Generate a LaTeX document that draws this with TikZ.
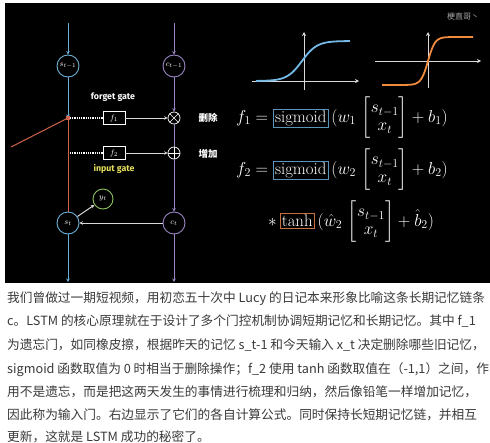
\documentclass[tikz,border=0pt]{standalone}
\usepackage{amsmath}
\usepackage{fontspec}
\usetikzlibrary{arrows.meta}
\newfontfamily\cjk{Noto Sans CJK SC}
\newfontfamily\gatefont{Fira Sans}
\definecolor{lblue}{HTML}{6AAED6}
\definecolor{lpurple}{HTML}{9A84C2}
\definecolor{lred}{HTML}{D0644C}
\definecolor{lgreen}{HTML}{8CBF5C}
\definecolor{lyellow}{HTML}{E6E05C}
\definecolor{sigcurve}{HTML}{74B9E6}
\definecolor{tanhcurve}{HTML}{F08A3C}
\definecolor{sigbox}{HTML}{5B94B8}
\definecolor{tanhbox}{HTML}{C8703C}
\definecolor{bodytext}{HTML}{3A3A3A}
\begin{document}
\begin{tikzpicture}[x=1pt,y=-1pt,
  tip/.style={-{Stealth[length=3.5pt,width=3.5pt]}},
  cell/.style={circle,minimum size=22pt,inner sep=0pt,line width=0.9pt,text=white,font=\fontsize{8}{9}\selectfont},
  gatebox/.style={rectangle,draw=white,line width=0.8pt,minimum width=22pt,minimum height=13pt,inner sep=0pt,text=white,font=\fontsize{8.5}{9}\selectfont},
  opnode/.style={circle,draw=white,line width=0.7pt,minimum size=12pt,inner sep=0pt},
  bline/.style={draw=lblue,line width=0.8pt},
  pline/.style={draw=lpurple,line width=0.8pt},
  rline/.style={draw=lred,line width=1pt},
  wline/.style={draw=white!85!black,line width=1pt},
  dotline/.style={draw=white,line width=1.2pt,dash pattern=on 0.9pt off 0.9pt},
  gatelabel/.style={font=\gatefont\bfseries\fontsize{8.8}{10}\selectfont},
  oplabel/.style={text=white,font=\cjk\bfseries\fontsize{9.5}{10}\selectfont,anchor=west},
  eq/.style={text=white,font=\fontsize{16.8}{19}\selectfont,inner sep=0pt},
  axis/.style={draw=white!85!black,line width=0.8pt,-{Stealth[length=4pt,width=4pt]}},
  body/.style={anchor=base west,inner sep=0pt,text=bodytext,font=\cjk\fontsize{12.7}{14}\selectfont}
]
\useasboundingbox (0,0) rectangle (490,442);
\fill[white] (0,0) rectangle (490,442);
\fill[black] (5,3) rectangle (490,283);

% ---- LSTM cells ----
\node[cell,draw=lblue] (sp) at (68,66) {$s_{t-1}$};
\node[cell,draw=lpurple] (cp) at (174,66) {$c_{t-1}$};
\node[cell,draw=lblue] (st) at (68,223) {$s_t$};
\node[cell,draw=lpurple] (ct) at (174,223) {$c_t$};
\node[cell,draw=lgreen,minimum size=20pt] (yt) at (103,199) {$y_t$};
\node[gatebox] (f1) at (114,118) {$f_1$};
\node[gatebox] (f2) at (114,153) {$f_2$};
\node[opnode] (ot) at (174,118) {};
\node[opnode] (op) at (174,153) {};
\draw[white,line width=0.7pt] (ot.north west) -- (ot.south east) (ot.north east) -- (ot.south west);
\draw[white,line width=0.7pt] (op.north) -- (op.south) (op.west) -- (op.east);

\coordinate (sin) at (68,23);
\coordinate (cin) at (174,23);
\coordinate (j1) at (68,118);
\coordinate (j2) at (68,153);
\coordinate (r0) at (11,147);
\coordinate (sout) at (68,282);
\coordinate (cout) at (174,282);

\draw[bline,tip] (sin) -- (sp);
\draw[pline,tip] (cin) -- (cp);
\draw[bline,tip] (sp) -- (j1);
\draw[rline] (r0) -- (j1);
\draw[rline] (j1) -- (st);
\fill[lred] (j1) +(-1.8,-1.8) rectangle +(1.8,1.8);
\draw[dotline] ([xshift=2pt]j1) -- (f1);
\draw[dotline] ([xshift=2pt]j2) -- (f2);
\draw[wline,tip] (f1) -- (ot);
\draw[wline,tip] (f2) -- (op);
\draw[pline,tip] (cp) -- (ot);
\draw[pline] (ot) -- (op);
\draw[pline,tip] (op) -- (ct);
\draw[wline,tip] (ct) -- (st);
\draw[wline,tip] (st) -- (yt);
\draw[bline,tip] (st) -- (sout);
\draw[pline,tip] (ct) -- (cout);

\node[gatelabel,text=white] (fg) at (113,97) {forget gate};
\node[gatelabel,text=lyellow] (ig) at (114,169) {input gate};
\node[oplabel] (del) at (195,118) {删除};
\node[oplabel] (add) at (195,154) {增加};

% ---- activation plots ----
\coordinate (sx0) at (252,81); \coordinate (sx1) at (359,81);
\coordinate (sy0) at (304,90); \coordinate (sy1) at (304,32);
\draw[axis] (sx0) -- (sx1);
\draw[axis] (sy0) -- (sy1);
\draw[sigcurve,line width=1.8pt] plot[domain=256:350,samples=80] (\x,{81-40/(1+exp(-(\x-302)/7.5))});
\coordinate (tx0) at (375,61); \coordinate (tx1) at (481,61);
\coordinate (ty0) at (428,88); \coordinate (ty1) at (428,32);
\draw[axis] (tx0) -- (tx1);
\draw[axis] (ty0) -- (ty1);
\draw[tanhcurve,line width=1.8pt] plot[domain=382:473,samples=80] (\x,{61-24*tanh((\x-428)/7)});

% ---- equations ----
\setlength{\fboxsep}{1.2pt}\setlength{\fboxrule}{0.9pt}
\node[eq,anchor=west] (eq1) at (236,118) {$f_1 = \fcolorbox{sigbox}{black}{$\mathrm{sigmoid}$}\,(w_1\,\begin{bmatrix}s_{t-1}\\[-1pt] x_t\end{bmatrix}+b_1)$};
\node[eq,anchor=west] (eq2) at (236,170) {$f_2 = \fcolorbox{sigbox}{black}{$\mathrm{sigmoid}$}\,(w_2\,\begin{bmatrix}s_{t-1}\\[-1pt] x_t\end{bmatrix}+b_2)$};
\node[eq,anchor=west] (eq3) at (268,222) {$*\,\fcolorbox{tanhbox}{black}{$\mathrm{tanh}$}\,(\hat{w}_2\,\begin{bmatrix}s_{t-1}\\[-1pt] x_t\end{bmatrix}+\hat{b}_2)$};

% ---- watermark ----
\node[anchor=west,inner sep=0pt,text=white!65!black,font=\cjk\fontsize{8}{9}\selectfont] (wm) at (447,16) {梗直哥丶};

% ---- body text ----
\node[body] (l1) at (7,302.5) {我们曾做过一期短视频，用初恋五十次中 Lucy 的日记本来形象比喻这条长期记忆链条};
\node[body] (l2) at (7,325.5) {c。LSTM 的核心原理就在于设计了多个门控机制协调短期记忆和长期记忆。其中 f\_1};
\node[body] (l3) at (7,349) {为遗忘门，如同橡皮擦，根据昨天的记忆 s\_t-1 和今天输入 x\_t 决定删除哪些旧记忆，};
\node[body] (l4) at (7,373) {sigmoid 函数取值为 0 时相当于删除操作；f\_2 使用 tanh 函数取值在（-1,1）之间，作};
\node[body] (l5) at (7,396) {用不是遗忘，而是把这两天发生的事情进行梳理和归纳，然后像铅笔一样增加记忆，};
\node[body] (l6) at (7,419) {因此称为输入门。右边显示了它们的各自计算公式。同时保持长短期记忆链，并相互};
\node[body] (l7) at (7,441) {更新，这就是 LSTM 成功的秘密了。};
\end{tikzpicture}
\end{document}
